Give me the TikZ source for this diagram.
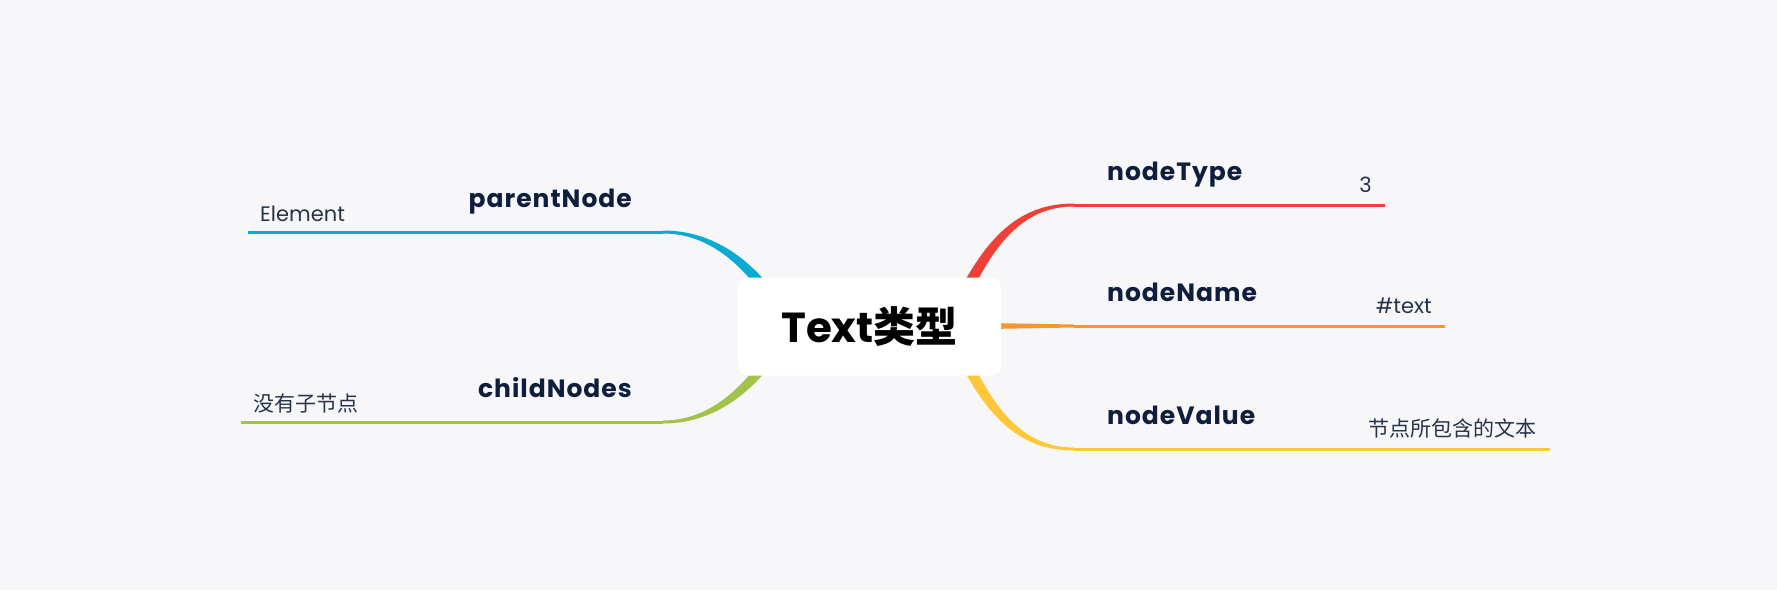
\documentclass[tikz,border=0pt]{standalone}
\usepackage{fontspec}
\setmainfont{Poppins}
\newfontfamily\cjk{Noto Sans CJK SC}
\newfontfamily\widefont{Poppins}[LetterSpace=4]
\usetikzlibrary{positioning}

\definecolor{bgcol}{HTML}{F7F7F9}
\definecolor{cblue}{HTML}{0BAAD2}
\definecolor{cgreen}{HTML}{A2C24A}
\definecolor{cred}{HTML}{EE4036}
\definecolor{corange}{HTML}{F7952F}
\definecolor{cyellow}{HTML}{FFC73A}
\definecolor{labcol}{HTML}{0F1E3C}
\definecolor{leafcol}{HTML}{26334A}

\tikzset{
  branchlabel/.style={font=\widefont\fontsize{25}{28}\selectfont\bfseries, text=labcol, inner sep=0pt},
  leaflabel/.style={font=\fontsize{21}{24}\selectfont, text=leafcol, inner sep=0pt},
  cjkleaf/.style={font=\cjk\fontsize{21}{24}\selectfont, text=leafcol, inner sep=0pt},
  rootbox/.style={fill=white, rounded corners=10pt, minimum width=263pt, minimum height=98pt, inner sep=0pt,
    font=\fontsize{42}{48}\selectfont\bfseries},
  underline/.style={line width=3pt},
}

\begin{document}
\begin{tikzpicture}[x=1pt,y=-1pt]
\fill[bgcol] (0,0) rectangle (1777,590);
\useasboundingbox (0,0) rectangle (1777,590);

% left side
\foreach \n/\c/\y/\s/\xb/\lab/\lf/\leaf in {parent/cblue/232/1/248/parentNode/leaflabel/Element,
    child/cgreen/422/-1/241/childNodes/cjkleaf/没有子节点} {
  \pgfmathsetmacro\m{\y+0.45*(326-\y)}
  \coordinate (\n-a) at (663,\y);
  \coordinate (\n-b) at (\xb,\y);
  \fill[\c] (663,{\y-1.5*\s}) .. controls (722,{\y-1.5*\s}) and (765,{\m-4*\s}) .. (797,326)
    -- (783,326) .. controls (755,{\m+4*\s}) and (718,{\y+1.5*\s}) .. (663,{\y+1.5*\s}) -- cycle;
  \draw[underline,\c] (\n-b) -- (\n-a);
  \node[branchlabel, anchor=base east] (\n) at (632,{\y-25}) {\lab};
  \node[\lf, anchor=base west] (\n-leaf) at ({\xb+12},{\y-11}) {\leaf};
}

% right side
\foreach \n/\c/\y/\s/\xe/\lab/\lf/\leaf in {type/cred/205/1/1385/nodeType/leaflabel/3,
    value/cyellow/449/-1/1550/nodeValue/cjkleaf/节点所包含的文本} {
  \pgfmathsetmacro\m{\y+0.3*(326-\y)}
  \coordinate (\n-a) at (1074,\y);
  \coordinate (\n-b) at (\xe,\y);
  \fill[\c] (1074,{\y-1.5*\s}) .. controls (1018,{\y-1.5*\s}) and (981,{\m-4*\s}) .. (943,326)
    -- (957,326) .. controls (989,{\m+4*\s}) and (1022,{\y+1.5*\s}) .. (1074,{\y+1.5*\s}) -- cycle;
  \draw[underline,\c] (\n-a) -- (\n-b);
  \node[branchlabel, anchor=base west] (\n) at (1107,{\y-25}) {\lab};
  \node[\lf, anchor=base east] (\n-leaf) at ({\xe-13},{\y-13}) {\leaf};
}

% straight branch
\coordinate (name-a) at (1074,326);
\coordinate (name-b) at (1445,326);
\fill[corange] (960,322.5) -- (1074,324.5) -- (1074,327.5) -- (960,329.5) -- cycle;
\draw[underline,corange] (name-a) -- (name-b);
\node[branchlabel, anchor=base west] (name) at (1107,301) {nodeName};
\node[leaflabel, anchor=base east] (name-leaf) at (1432,313) {\#text};

\node[rootbox] (root) at (869.5,326.5) {Text{\cjk 类型}};
\end{tikzpicture}
\end{document}
